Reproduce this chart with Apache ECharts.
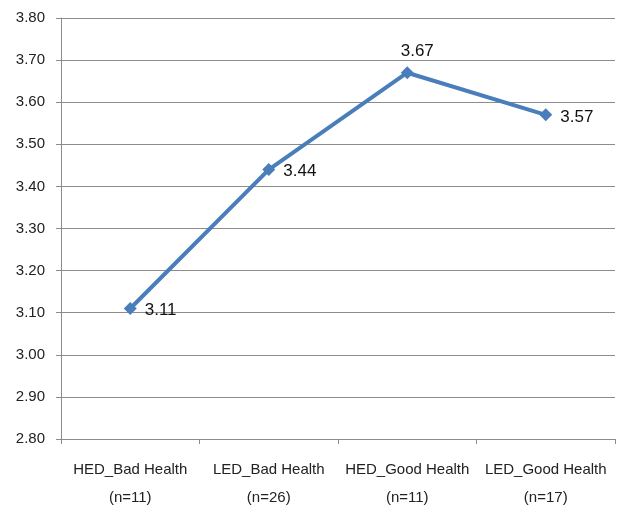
<!DOCTYPE html>
<html>
<head>
<meta charset="utf-8">
<script src="https://cdn.jsdelivr.net/npm/echarts@6/dist/echarts.min.js"></script>
<style>
  html, body { margin: 0; padding: 0; background: #fff; }
  #chart { width: 617px; height: 508px; }
</style>
</head>
<body>
<div id="chart"></div>
<script>
// Groups on the x axis and their mean scores
const categories = [
  'HED_Bad Health\n(n=11)',
  'LED_Bad Health\n(n=26)',
  'HED_Good Health\n(n=11)',
  'LED_Good Health\n(n=17)'
];
const meanScores = [3.11, 3.44, 3.67, 3.57];
const labelPlacement = ['right', 'right', 'top', 'right'];

const chart = echarts.init(document.getElementById('chart'));
const font = '"Liberation Sans", Arial, sans-serif';

chart.setOption({
  animation: false,
  grid: {
    left: 61, right: 2, top: 18, bottom: 69,
    containLabel: false,
    outerBoundsMode: 'none'
  },
  xAxis: {
    type: 'category',
    data: categories,
    boundaryGap: true,
    axisLine: { lineStyle: { color: '#8c8c8c', width: 1 } },
    axisTick: { show: true, length: 5, lineStyle: { color: '#8c8c8c' } },
    axisLabel: {
      interval: 0,
      margin: 17,
      color: '#222',
      fontFamily: font,
      fontSize: 15,
      lineHeight: 28
    }
  },
  yAxis: {
    type: 'value',
    min: 2.8,
    max: 3.8,
    interval: 0.1,
    axisLine: { show: true, lineStyle: { color: '#8c8c8c', width: 1 } },
    axisTick: { show: true, length: 5, lineStyle: { color: '#8c8c8c' } },
    splitLine: { lineStyle: { color: '#8c8c8c', width: 1 } },
    axisLabel: {
      margin: 16,
      color: '#222',
      fontFamily: font,
      fontSize: 15,
      formatter: v => v.toFixed(2)
    }
  },
  series: [{
    type: 'line',
    data: meanScores.map((v, i) => ({
      value: v,
      label: labelPlacement[i] === 'top'
        ? { position: 'top', distance: 6, offset: [10, 0] }
        : { position: 'right', offset: [0, 2] }
    })),
    symbol: 'diamond',
    symbolSize: 13,
    lineStyle: { color: '#4a7ebb', width: 4 },
    itemStyle: { color: '#4a7ebb' },
    label: {
      show: true,
      distance: 8,
      color: '#111',
      fontFamily: font,
      fontSize: 17,
      formatter: p => p.value.toFixed(2)
    }
  }]
});
</script>
</body>
</html>
